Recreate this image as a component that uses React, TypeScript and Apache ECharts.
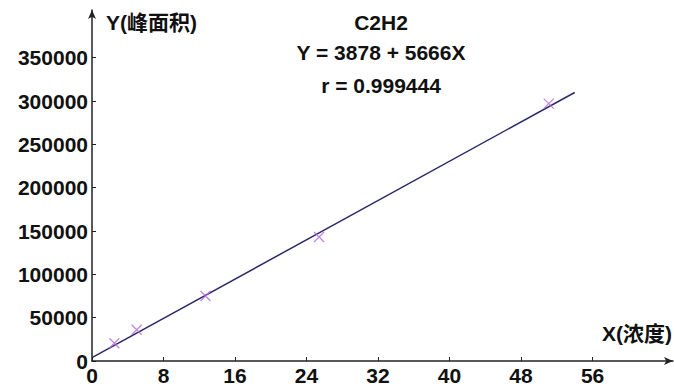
import React, { useEffect, useRef } from "react";
import * as echarts from "echarts";

const concentrations = [2.5, 5.0, 12.7, 25.4, 51.1];
const peakAreas = [20500, 36000, 75000, 143000, 297000];
const fitIntercept = 3878;
const fitSlope = 5666;
const fitXRange = [0, 54];
const xTicks = [0, 8, 16, 24, 32, 40, 48, 56];
const yTicks = [0, 50000, 100000, 150000, 200000, 250000, 300000, 350000];
const titleLines = ["C2H2", "Y = 3878 + 5666X", "r = 0.999444"];
const xName = "X(浓度)";
const yName = "Y(峰面积)";

const FONT = "'Liberation Sans', Arial, 'Noto Sans CJK SC', sans-serif";

export default function App() {
  const ref = useRef<HTMLDivElement>(null);
  useEffect(() => {
    const chart = echarts.init(ref.current!, undefined, { renderer: "svg" });
    const fitLine = fitXRange.map((x) => [x, fitIntercept + fitSlope * x]);
    const labelStyle = {
      color: "#111",
      fontFamily: FONT,
      fontWeight: "bold" as const,
      fontSize: 21,
    };
    const titleY = [22, 52, 85];
    chart.setOption({
      animation: false,
      backgroundColor: "#fff",
      grid: { left: 92, right: 1, top: 10, bottom: 31, containLabel: false },
      xAxis: {
        type: "value",
        min: 0,
        max: 65,
        interval: 8,
        splitLine: { show: false },
        axisLine: {
          show: true,
          onZero: false,
          symbol: ["none", "arrow"],
          symbolSize: [6, 9],
          lineStyle: { color: "#222", width: 1.5 },
        },
        axisTick: {
          show: true,
          inside: true,
          length: 4,
          customValues: xTicks,
          lineStyle: { color: "#222" },
        },
        axisLabel: {
          ...labelStyle,
          margin: 4,
          customValues: xTicks,
          formatter: (v: number) => String(v),
        },
      },
      yAxis: {
        type: "value",
        min: 0,
        max: 405000,
        interval: 50000,
        splitLine: { show: false },
        axisLine: {
          show: true,
          onZero: false,
          symbol: ["none", "arrow"],
          symbolSize: [6, 9],
          lineStyle: { color: "#222", width: 1.5 },
        },
        axisTick: {
          show: true,
          inside: true,
          length: 4,
          customValues: yTicks,
          lineStyle: { color: "#222" },
        },
        axisLabel: {
          ...labelStyle,
          margin: 4,
          customValues: yTicks,
          formatter: (v: number) => String(v),
        },
      },
      graphic: [
        {
          type: "text",
          left: 106,
          top: 12,
          style: { text: yName, ...labelStyle, fill: "#111" },
        },
        {
          type: "text",
          right: 2,
          top: 323,
          style: { text: xName, ...labelStyle, fill: "#111" },
        },
        ...titleLines.map((t, i) => ({
          type: "text",
          x: 381,
          y: titleY[i],
          style: {
            text: t,
            ...labelStyle,
            fill: "#111",
            align: "center",
            verticalAlign: "middle",
          },
        })),
      ],
      series: [
        {
          type: "line",
          data: fitLine,
          symbol: "none",
          lineStyle: { color: "#2a2a6a", width: 1.5 },
          z: 2,
        },
        {
          type: "scatter",
          data: concentrations.map((x, i) => [x, peakAreas[i]]),
          symbol: "path://M0,0L10,10M10,0L0,10",
          symbolSize: 10,
          itemStyle: { color: "none", borderColor: "#b566d8", borderWidth: 1.3 },
          z: 3,
        },
      ],
    });
    return () => chart.dispose();
  }, []);
  return <div ref={ref} style={{ width: 674, height: 392, position: "absolute", left: 0, top: 0 }} />;
}
